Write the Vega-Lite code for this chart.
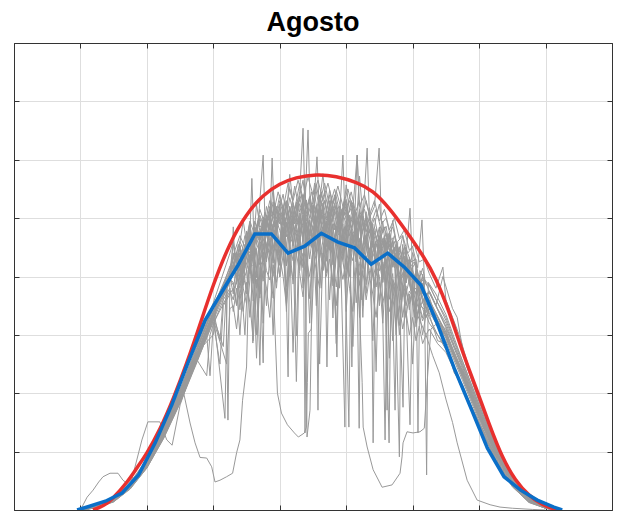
{
"$schema": "https://vega.github.io/schema/vega-lite/v6.json",
"width": 598, "height": 467,
"autosize": {"type": "none"},
"padding": {"left": 14, "top": 43, "right": 6, "bottom": 1},
"background": "white",
"title": {"text": "Agosto", "fontSize": 27, "font": "Liberation Sans", "fontWeight": "bold", "color": "#000000", "anchor": "middle", "frame": "group", "baseline": "alphabetic", "offset": 14, "dy": 29},
"config": {"view": {"stroke": null}},
"datasets": {
"gray": [
{"d":1,"h":5.0,"v":0},{"d":1,"h":5.5,"v":6},{"d":1,"h":6.0,"v":18},{"d":1,"h":6.5,"v":42},{"d":1,"h":7.0,"v":80},{"d":1,"h":7.5,"v":133},{"d":1,"h":8.0,"v":196},{"d":1,"h":8.09,"v":205},{"d":1,"h":8.3,"v":149},{"d":1,"h":8.45,"v":115},{"d":1,"h":8.6,"v":90},{"d":1,"h":8.8,"v":89},{"d":1,"h":8.95,"v":74},{"d":1,"h":9.05,"v":48},{"d":1,"h":9.2,"v":51},{"d":1,"h":9.4,"v":57},{"d":1,"h":9.58,"v":63},{"d":1,"h":9.7,"v":98},{"d":1,"h":9.8,"v":120},{"d":1,"h":9.88,"v":188},{"d":1,"h":10.0,"v":245},{"d":1,"h":10.05,"v":360},{"d":1,"h":10.15,"v":430},{"d":1,"h":10.3,"v":470},{"d":1,"h":10.45,"v":455},{"d":1,"h":10.6,"v":500},{"d":1,"h":10.75,"v":470},{"d":1,"h":10.9,"v":520},{"d":1,"h":11.05,"v":488},{"d":1,"h":11.2,"v":530},{"d":1,"h":11.35,"v":470},{"d":1,"h":11.5,"v":515},{"d":1,"h":11.65,"v":540},{"d":1,"h":11.8,"v":495},{"d":1,"h":11.95,"v":525},{"d":1,"h":12.1,"v":480},{"d":1,"h":12.25,"v":545},{"d":1,"h":12.4,"v":500},{"d":1,"h":12.55,"v":530},{"d":1,"h":12.7,"v":470},{"d":1,"h":12.85,"v":515},{"d":1,"h":13.0,"v":490},{"d":1,"h":13.15,"v":530},{"d":1,"h":13.3,"v":470},{"d":1,"h":13.45,"v":505},{"d":1,"h":13.6,"v":455},{"d":1,"h":13.75,"v":490},{"d":1,"h":13.9,"v":470},{"d":1,"h":14.05,"v":440},{"d":1,"h":14.2,"v":475},{"d":1,"h":14.35,"v":430},{"d":1,"h":14.5,"v":455},{"d":1,"h":14.65,"v":410},{"d":1,"h":14.8,"v":430},{"d":1,"h":14.95,"v":395},{"d":1,"h":15.1,"v":400},{"d":1,"h":15.25,"v":375},{"d":1,"h":15.4,"v":365},{"d":1,"h":15.5,"v":375},{"d":1,"h":16.0,"v":312},{"d":1,"h":16.5,"v":242},{"d":1,"h":17.0,"v":170},{"d":1,"h":17.5,"v":104},{"d":1,"h":18.0,"v":53},{"d":1,"h":18.5,"v":21},{"d":1,"h":19.0,"v":5},{"d":1,"h":19.4,"v":0},
{"d":2,"h":5.0,"v":0},{"d":2,"h":5.5,"v":4},{"d":2,"h":6.0,"v":15},{"d":2,"h":6.5,"v":38},{"d":2,"h":7.0,"v":74},{"d":2,"h":7.5,"v":126},{"d":2,"h":8.0,"v":188},{"d":2,"h":8.5,"v":258},{"d":2,"h":9.0,"v":330},{"d":2,"h":9.3,"v":370},{"d":2,"h":9.5,"v":398},{"d":2,"h":9.65,"v":420},{"d":2,"h":9.8,"v":395},{"d":2,"h":9.95,"v":450},{"d":2,"h":10.1,"v":430},{"d":2,"h":10.25,"v":478},{"d":2,"h":10.4,"v":445},{"d":2,"h":10.55,"v":490},{"d":2,"h":10.7,"v":462},{"d":2,"h":10.82,"v":360},{"d":2,"h":10.88,"v":274},{"d":2,"h":10.93,"v":200},{"d":2,"h":11.05,"v":166},{"d":2,"h":11.23,"v":146},{"d":2,"h":11.44,"v":132},{"d":2,"h":11.56,"v":125},{"d":2,"h":11.74,"v":132},{"d":2,"h":11.8,"v":142},{"d":2,"h":11.83,"v":218},{"d":2,"h":11.86,"v":303},{"d":2,"h":11.95,"v":310},{"d":2,"h":12.0,"v":380},{"d":2,"h":12.05,"v":470},{"d":2,"h":12.2,"v":520},{"d":2,"h":12.35,"v":490},{"d":2,"h":12.5,"v":548},{"d":2,"h":12.65,"v":505},{"d":2,"h":12.8,"v":470},{"d":2,"h":12.95,"v":530},{"d":2,"h":13.1,"v":495},{"d":2,"h":13.25,"v":460},{"d":2,"h":13.4,"v":515},{"d":2,"h":13.55,"v":480},{"d":2,"h":13.7,"v":500},{"d":2,"h":13.85,"v":450},{"d":2,"h":14.0,"v":485},{"d":2,"h":14.15,"v":445},{"d":2,"h":14.3,"v":470},{"d":2,"h":14.45,"v":420},{"d":2,"h":14.6,"v":450},{"d":2,"h":14.75,"v":415},{"d":2,"h":14.9,"v":430},{"d":2,"h":15.05,"v":390},{"d":2,"h":15.2,"v":400},{"d":2,"h":15.35,"v":370},{"d":2,"h":15.5,"v":360},{"d":2,"h":16.0,"v":305},{"d":2,"h":16.5,"v":236},{"d":2,"h":17.0,"v":165},{"d":2,"h":17.5,"v":100},{"d":2,"h":18.0,"v":50},{"d":2,"h":18.5,"v":19},{"d":2,"h":19.0,"v":4},{"d":2,"h":19.3,"v":0},
{"d":3,"h":5.0,"v":0},{"d":3,"h":5.5,"v":5},{"d":3,"h":6.0,"v":17},{"d":3,"h":6.5,"v":41},{"d":3,"h":7.0,"v":78},{"d":3,"h":7.5,"v":130},{"d":3,"h":8.0,"v":192},{"d":3,"h":8.5,"v":265},{"d":3,"h":9.0,"v":338},{"d":3,"h":9.5,"v":405},{"d":3,"h":9.65,"v":430},{"d":3,"h":9.8,"v":410},{"d":3,"h":9.95,"v":455},{"d":3,"h":10.1,"v":440},{"d":3,"h":10.25,"v":485},{"d":3,"h":10.4,"v":460},{"d":3,"h":10.55,"v":500},{"d":3,"h":10.7,"v":475},{"d":3,"h":10.85,"v":520},{"d":3,"h":11.0,"v":490},{"d":3,"h":11.15,"v":530},{"d":3,"h":11.3,"v":500},{"d":3,"h":11.45,"v":555},{"d":3,"h":11.6,"v":510},{"d":3,"h":11.75,"v":540},{"d":3,"h":11.9,"v":500},{"d":3,"h":12.05,"v":560},{"d":3,"h":12.2,"v":515},{"d":3,"h":12.35,"v":545},{"d":3,"h":12.5,"v":505},{"d":3,"h":12.65,"v":535},{"d":3,"h":12.8,"v":495},{"d":3,"h":12.95,"v":525},{"d":3,"h":13.1,"v":490},{"d":3,"h":13.25,"v":515},{"d":3,"h":13.39,"v":360},{"d":3,"h":13.48,"v":218},{"d":3,"h":13.51,"v":142},{"d":3,"h":13.63,"v":108},{"d":3,"h":13.81,"v":69},{"d":3,"h":14.08,"v":39},{"d":3,"h":14.38,"v":43},{"d":3,"h":14.62,"v":63},{"d":3,"h":14.68,"v":91},{"d":3,"h":14.71,"v":115},{"d":3,"h":14.83,"v":134},{"d":3,"h":15.01,"v":132},{"d":3,"h":15.22,"v":134},{"d":3,"h":15.35,"v":140},{"d":3,"h":15.45,"v":230},{"d":3,"h":15.55,"v":310},{"d":3,"h":15.7,"v":318},{"d":3,"h":16.0,"v":300},{"d":3,"h":16.5,"v":232},{"d":3,"h":17.0,"v":162},{"d":3,"h":17.5,"v":98},{"d":3,"h":18.0,"v":48},{"d":3,"h":18.5,"v":18},{"d":3,"h":19.0,"v":4},{"d":3,"h":19.3,"v":0},
{"d":4,"h":5.0,"v":0},{"d":4,"h":5.5,"v":6},{"d":4,"h":6.0,"v":19},{"d":4,"h":6.5,"v":44},{"d":4,"h":7.0,"v":82},{"d":4,"h":7.5,"v":136},{"d":4,"h":8.0,"v":200},{"d":4,"h":8.5,"v":272},{"d":4,"h":9.0,"v":345},{"d":4,"h":9.5,"v":410},{"d":4,"h":9.65,"v":440},{"d":4,"h":9.8,"v":420},{"d":4,"h":9.95,"v":470},{"d":4,"h":10.1,"v":445},{"d":4,"h":10.25,"v":495},{"d":4,"h":10.4,"v":462},{"d":4,"h":10.55,"v":510},{"d":4,"h":10.7,"v":480},{"d":4,"h":10.85,"v":525},{"d":4,"h":11.0,"v":495},{"d":4,"h":11.15,"v":470},{"d":4,"h":11.3,"v":520},{"d":4,"h":11.45,"v":490},{"d":4,"h":11.6,"v":535},{"d":4,"h":11.75,"v":500},{"d":4,"h":11.9,"v":470},{"d":4,"h":12.05,"v":520},{"d":4,"h":12.2,"v":495},{"d":4,"h":12.35,"v":530},{"d":4,"h":12.5,"v":485},{"d":4,"h":12.65,"v":515},{"d":4,"h":12.8,"v":480},{"d":4,"h":12.95,"v":510},{"d":4,"h":13.1,"v":470},{"d":4,"h":13.25,"v":500},{"d":4,"h":13.4,"v":460},{"d":4,"h":13.55,"v":490},{"d":4,"h":13.7,"v":445},{"d":4,"h":13.85,"v":475},{"d":4,"h":14.0,"v":440},{"d":4,"h":14.15,"v":465},{"d":4,"h":14.3,"v":425},{"d":4,"h":14.45,"v":450},{"d":4,"h":14.6,"v":91},{"d":4,"h":14.65,"v":400},{"d":4,"h":14.8,"v":420},{"d":4,"h":14.95,"v":380},{"d":4,"h":15.1,"v":340},{"d":4,"h":15.25,"v":320},{"d":4,"h":15.4,"v":300},{"d":4,"h":15.6,"v":265},{"d":4,"h":15.8,"v":235},{"d":4,"h":16.0,"v":190},{"d":4,"h":16.2,"v":150},{"d":4,"h":16.34,"v":115},{"d":4,"h":16.64,"v":51},{"d":4,"h":16.94,"v":17},{"d":4,"h":17.33,"v":9},{"d":4,"h":17.63,"v":5},{"d":4,"h":18.0,"v":3},{"d":4,"h":18.6,"v":1},{"d":4,"h":19.0,"v":0},
{"d":5,"h":5.0,"v":0},{"d":5,"h":5.2,"v":22},{"d":5,"h":5.38,"v":34},{"d":5,"h":5.55,"v":48},{"d":5,"h":5.68,"v":57},{"d":5,"h":5.89,"v":63},{"d":5,"h":6.13,"v":63},{"d":5,"h":6.28,"v":51},{"d":5,"h":6.4,"v":46},{"d":5,"h":6.6,"v":55},{"d":5,"h":7.0,"v":80},{"d":5,"h":7.5,"v":132},{"d":5,"h":8.0,"v":194},{"d":5,"h":8.5,"v":268},{"d":5,"h":9.0,"v":340},{"d":5,"h":9.5,"v":405},{"d":5,"h":9.55,"v":420},{"d":5,"h":9.6,"v":485},{"d":5,"h":9.65,"v":425},{"d":5,"h":9.8,"v":440},{"d":5,"h":9.95,"v":415},{"d":5,"h":10.1,"v":470},{"d":5,"h":10.16,"v":568},{"d":5,"h":10.22,"v":470},{"d":5,"h":10.35,"v":495},{"d":5,"h":10.5,"v":460},{"d":5,"h":10.65,"v":505},{"d":5,"h":10.8,"v":480},{"d":5,"h":10.95,"v":440},{"d":5,"h":11.1,"v":510},{"d":5,"h":11.25,"v":475},{"d":5,"h":11.4,"v":525},{"d":5,"h":11.55,"v":490},{"d":5,"h":11.7,"v":520},{"d":5,"h":11.85,"v":460},{"d":5,"h":12.0,"v":505},{"d":5,"h":12.12,"v":605},{"d":5,"h":12.2,"v":500},{"d":5,"h":12.35,"v":470},{"d":5,"h":12.5,"v":520},{"d":5,"h":12.65,"v":480},{"d":5,"h":12.8,"v":510},{"d":5,"h":12.95,"v":455},{"d":5,"h":13.1,"v":495},{"d":5,"h":13.25,"v":470},{"d":5,"h":13.4,"v":505},{"d":5,"h":13.55,"v":455},{"d":5,"h":13.7,"v":480},{"d":5,"h":13.85,"v":440},{"d":5,"h":14.0,"v":470},{"d":5,"h":14.15,"v":430},{"d":5,"h":14.3,"v":455},{"d":5,"h":14.45,"v":415},{"d":5,"h":14.6,"v":440},{"d":5,"h":14.75,"v":400},{"d":5,"h":14.92,"v":517},{"d":5,"h":15.0,"v":410},{"d":5,"h":15.15,"v":385},{"d":5,"h":15.3,"v":370},{"d":5,"h":15.5,"v":372},{"d":5,"h":16.0,"v":315},{"d":5,"h":16.5,"v":245},{"d":5,"h":17.0,"v":172},{"d":5,"h":17.5,"v":106},{"d":5,"h":18.0,"v":55},{"d":5,"h":18.5,"v":23},{"d":5,"h":19.0,"v":6},{"d":5,"h":19.4,"v":0},
{"d":6,"h":5.0,"v":0},{"d":6,"h":5.5,"v":5},{"d":6,"h":6.0,"v":17},{"d":6,"h":6.5,"v":42},{"d":6,"h":6.85,"v":120},{"d":6,"h":7.03,"v":151},{"d":6,"h":7.39,"v":151},{"d":6,"h":7.6,"v":120},{"d":6,"h":7.76,"v":111},{"d":6,"h":8.0,"v":180},{"d":6,"h":8.5,"v":262},{"d":6,"h":9.0,"v":338},{"d":6,"h":9.35,"v":157},{"d":6,"h":9.42,"v":380},{"d":6,"h":9.6,"v":410},{"d":6,"h":9.75,"v":455},{"d":6,"h":9.9,"v":430},{"d":6,"h":10.05,"v":470},{"d":6,"h":10.2,"v":445},{"d":6,"h":10.35,"v":490},{"d":6,"h":10.5,"v":608},{"d":6,"h":10.56,"v":480},{"d":6,"h":10.7,"v":505},{"d":6,"h":10.85,"v":470},{"d":6,"h":11.0,"v":520},{"d":6,"h":11.15,"v":485},{"d":6,"h":11.3,"v":535},{"d":6,"h":11.45,"v":500},{"d":6,"h":11.6,"v":545},{"d":6,"h":11.7,"v":654},{"d":6,"h":11.76,"v":520},{"d":6,"h":11.85,"v":651},{"d":6,"h":11.92,"v":510},{"d":6,"h":12.05,"v":540},{"d":6,"h":12.2,"v":490},{"d":6,"h":12.35,"v":530},{"d":6,"h":12.5,"v":495},{"d":6,"h":12.65,"v":540},{"d":6,"h":12.8,"v":500},{"d":6,"h":12.9,"v":608},{"d":6,"h":12.96,"v":505},{"d":6,"h":13.1,"v":530},{"d":6,"h":13.25,"v":490},{"d":6,"h":13.33,"v":608},{"d":6,"h":13.4,"v":500},{"d":6,"h":13.55,"v":515},{"d":6,"h":13.7,"v":475},{"d":6,"h":13.85,"v":500},{"d":6,"h":14.0,"v":460},{"d":6,"h":14.15,"v":485},{"d":6,"h":14.3,"v":445},{"d":6,"h":14.45,"v":470},{"d":6,"h":14.6,"v":430},{"d":6,"h":14.75,"v":450},{"d":6,"h":14.9,"v":415},{"d":6,"h":15.05,"v":425},{"d":6,"h":15.2,"v":390},{"d":6,"h":15.35,"v":395},{"d":6,"h":15.5,"v":375},{"d":6,"h":15.7,"v":350},{"d":6,"h":15.91,"v":400},{"d":6,"h":16.2,"v":345},{"d":6,"h":16.34,"v":330},{"d":6,"h":16.43,"v":300},{"d":6,"h":16.6,"v":250},{"d":6,"h":17.0,"v":185},{"d":6,"h":17.5,"v":112},{"d":6,"h":18.0,"v":58},{"d":6,"h":18.5,"v":24},{"d":6,"h":19.0,"v":7},{"d":6,"h":19.4,"v":0},
{"d":7,"h":5.0,"v":0},{"d":7,"h":5.5,"v":5},{"d":7,"h":6.0,"v":16},{"d":7,"h":6.5,"v":39},{"d":7,"h":7.0,"v":75},{"d":7,"h":7.5,"v":127},{"d":7,"h":8.0,"v":190},{"d":7,"h":8.5,"v":260},{"d":7,"h":9.0,"v":332},{"d":7,"h":9.5,"v":398},{"d":7,"h":9.65,"v":415},{"d":7,"h":9.8,"v":385},{"d":7,"h":9.95,"v":440},{"d":7,"h":10.1,"v":420},{"d":7,"h":10.25,"v":465},{"d":7,"h":10.4,"v":440},{"d":7,"h":10.5,"v":252},{"d":7,"h":10.55,"v":460},{"d":7,"h":10.7,"v":490},{"d":7,"h":10.77,"v":603},{"d":7,"h":10.85,"v":480},{"d":7,"h":11.0,"v":455},{"d":7,"h":11.15,"v":500},{"d":7,"h":11.25,"v":228},{"d":7,"h":11.3,"v":470},{"d":7,"h":11.45,"v":510},{"d":7,"h":11.6,"v":475},{"d":7,"h":11.75,"v":500},{"d":7,"h":11.82,"v":125},{"d":7,"h":11.91,"v":171},{"d":7,"h":12.0,"v":480},{"d":7,"h":12.2,"v":520},{"d":7,"h":12.35,"v":470},{"d":7,"h":12.5,"v":505},{"d":7,"h":12.6,"v":460},{"d":7,"h":12.72,"v":262},{"d":7,"h":12.8,"v":500},{"d":7,"h":12.95,"v":460},{"d":7,"h":13.08,"v":142},{"d":7,"h":13.15,"v":480},{"d":7,"h":13.3,"v":510},{"d":7,"h":13.45,"v":470},{"d":7,"h":13.6,"v":500},{"d":7,"h":13.75,"v":450},{"d":7,"h":13.81,"v":115},{"d":7,"h":13.88,"v":460},{"d":7,"h":14.0,"v":440},{"d":7,"h":14.15,"v":470},{"d":7,"h":14.23,"v":171},{"d":7,"h":14.3,"v":440},{"d":7,"h":14.45,"v":460},{"d":7,"h":14.6,"v":420},{"d":7,"h":14.75,"v":435},{"d":7,"h":14.92,"v":146},{"d":7,"h":15.0,"v":400},{"d":7,"h":15.15,"v":385},{"d":7,"h":15.3,"v":360},{"d":7,"h":15.5,"v":350},{"d":7,"h":16.0,"v":298},{"d":7,"h":16.5,"v":230},{"d":7,"h":17.0,"v":160},{"d":7,"h":17.5,"v":97},{"d":7,"h":18.0,"v":47},{"d":7,"h":18.5,"v":17},{"d":7,"h":19.0,"v":4},{"d":7,"h":19.3,"v":0},
{"d":8,"h":5.0,"v":0},{"d":8,"h":5.5,"v":7},{"d":8,"h":6.0,"v":20},{"d":8,"h":6.5,"v":46},{"d":8,"h":7.0,"v":86},{"d":8,"h":7.5,"v":140},{"d":8,"h":8.0,"v":205},{"d":8,"h":8.5,"v":278},{"d":8,"h":9.0,"v":350},{"d":8,"h":9.38,"v":395},{"d":8,"h":9.44,"v":154},{"d":8,"h":9.5,"v":400},{"d":8,"h":9.65,"v":430},{"d":8,"h":9.8,"v":460},{"d":8,"h":9.95,"v":440},{"d":8,"h":10.1,"v":490},{"d":8,"h":10.19,"v":286},{"d":8,"h":10.25,"v":470},{"d":8,"h":10.4,"v":505},{"d":8,"h":10.55,"v":480},{"d":8,"h":10.7,"v":520},{"d":8,"h":10.85,"v":495},{"d":8,"h":11.0,"v":540},{"d":8,"h":11.15,"v":505},{"d":8,"h":11.3,"v":550},{"d":8,"h":11.45,"v":515},{"d":8,"h":11.6,"v":560},{"d":8,"h":11.7,"v":520},{"d":8,"h":11.76,"v":132},{"d":8,"h":11.82,"v":500},{"d":8,"h":11.95,"v":545},{"d":8,"h":12.08,"v":515},{"d":8,"h":12.15,"v":171},{"d":8,"h":12.22,"v":530},{"d":8,"h":12.35,"v":560},{"d":8,"h":12.5,"v":520},{"d":8,"h":12.65,"v":550},{"d":8,"h":12.8,"v":510},{"d":8,"h":12.96,"v":142},{"d":8,"h":13.02,"v":520},{"d":8,"h":13.15,"v":545},{"d":8,"h":13.3,"v":505},{"d":8,"h":13.39,"v":140},{"d":8,"h":13.45,"v":500},{"d":8,"h":13.6,"v":530},{"d":8,"h":13.75,"v":490},{"d":8,"h":13.9,"v":515},{"d":8,"h":14.05,"v":480},{"d":8,"h":14.17,"v":120},{"d":8,"h":14.25,"v":470},{"d":8,"h":14.4,"v":485},{"d":8,"h":14.55,"v":450},{"d":8,"h":14.71,"v":176},{"d":8,"h":14.78,"v":450},{"d":8,"h":14.95,"v":425},{"d":8,"h":15.1,"v":430},{"d":8,"h":15.16,"v":132},{"d":8,"h":15.22,"v":410},{"d":8,"h":15.35,"v":395},{"d":8,"h":15.5,"v":385},{"d":8,"h":16.0,"v":325},{"d":8,"h":16.5,"v":250},{"d":8,"h":17.0,"v":176},{"d":8,"h":17.5,"v":108},{"d":8,"h":18.0,"v":56},{"d":8,"h":18.5,"v":22},{"d":8,"h":19.0,"v":6},{"d":8,"h":19.4,"v":0},
{"d":9,"h":5.0,"v":0},{"d":9,"h":5.5,"v":5},{"d":9,"h":6.0,"v":17},{"d":9,"h":6.5,"v":40},{"d":9,"h":7.0,"v":77},{"d":9,"h":7.5,"v":129},{"d":9,"h":8.0,"v":192},{"d":9,"h":8.5,"v":264},{"d":9,"h":9.0,"v":336},{"d":9,"h":9.5,"v":402},{"d":9,"h":9.65,"v":425},{"d":9,"h":9.8,"v":450},{"d":9,"h":9.95,"v":430},{"d":9,"h":10.1,"v":475},{"d":9,"h":10.25,"v":455},{"d":9,"h":10.4,"v":500},{"d":9,"h":10.55,"v":470},{"d":9,"h":10.7,"v":515},{"d":9,"h":10.85,"v":485},{"d":9,"h":11.0,"v":530},{"d":9,"h":11.15,"v":495},{"d":9,"h":11.3,"v":515},{"d":9,"h":11.45,"v":480},{"d":9,"h":11.6,"v":525},{"d":9,"h":11.75,"v":495},{"d":9,"h":11.9,"v":535},{"d":9,"h":12.05,"v":500},{"d":9,"h":12.2,"v":540},{"d":9,"h":12.35,"v":505},{"d":9,"h":12.42,"v":245},{"d":9,"h":12.5,"v":495},{"d":9,"h":12.65,"v":525},{"d":9,"h":12.8,"v":490},{"d":9,"h":12.95,"v":535},{"d":9,"h":13.1,"v":500},{"d":9,"h":13.17,"v":245},{"d":9,"h":13.25,"v":505},{"d":9,"h":13.4,"v":530},{"d":9,"h":13.5,"v":495},{"d":9,"h":13.63,"v":620},{"d":9,"h":13.7,"v":500},{"d":9,"h":13.85,"v":520},{"d":9,"h":13.99,"v":620},{"d":9,"h":14.06,"v":490},{"d":9,"h":14.2,"v":500},{"d":9,"h":14.35,"v":465},{"d":9,"h":14.47,"v":171},{"d":9,"h":14.55,"v":460},{"d":9,"h":14.7,"v":470},{"d":9,"h":14.85,"v":440},{"d":9,"h":15.0,"v":450},{"d":9,"h":15.15,"v":415},{"d":9,"h":15.28,"v":497},{"d":9,"h":15.35,"v":400},{"d":9,"h":15.42,"v":60},{"d":9,"h":15.47,"v":390},{"d":9,"h":15.7,"v":370},{"d":9,"h":16.0,"v":335},{"d":9,"h":16.5,"v":255},{"d":9,"h":17.0,"v":180},{"d":9,"h":17.5,"v":110},{"d":9,"h":18.0,"v":57},{"d":9,"h":18.5,"v":23},{"d":9,"h":19.0,"v":6},{"d":9,"h":19.4,"v":0},
{"d":10,"h":5.0,"v":0},{"d":10,"h":5.5,"v":4},{"d":10,"h":6.0,"v":14},{"d":10,"h":6.5,"v":36},{"d":10,"h":7.0,"v":72},{"d":10,"h":7.5,"v":122},{"d":10,"h":8.0,"v":183},{"d":10,"h":8.5,"v":252},{"d":10,"h":9.0,"v":325},{"d":10,"h":9.5,"v":392},{"d":10,"h":9.65,"v":410},{"d":10,"h":9.8,"v":380},{"d":10,"h":9.95,"v":430},{"d":10,"h":10.1,"v":405},{"d":10,"h":10.25,"v":450},{"d":10,"h":10.4,"v":420},{"d":10,"h":10.55,"v":465},{"d":10,"h":10.7,"v":435},{"d":10,"h":10.85,"v":480},{"d":10,"h":11.0,"v":440},{"d":10,"h":11.15,"v":490},{"d":10,"h":11.3,"v":455},{"d":10,"h":11.45,"v":500},{"d":10,"h":11.6,"v":460},{"d":10,"h":11.75,"v":505},{"d":10,"h":11.9,"v":465},{"d":10,"h":12.05,"v":500},{"d":10,"h":12.2,"v":455},{"d":10,"h":12.35,"v":495},{"d":10,"h":12.5,"v":450},{"d":10,"h":12.65,"v":490},{"d":10,"h":12.8,"v":445},{"d":10,"h":12.95,"v":485},{"d":10,"h":13.1,"v":440},{"d":10,"h":13.25,"v":475},{"d":10,"h":13.4,"v":430},{"d":10,"h":13.55,"v":465},{"d":10,"h":13.7,"v":420},{"d":10,"h":13.85,"v":455},{"d":10,"h":14.0,"v":410},{"d":10,"h":14.15,"v":440},{"d":10,"h":14.29,"v":115},{"d":10,"h":14.35,"v":420},{"d":10,"h":14.5,"v":430},{"d":10,"h":14.65,"v":395},{"d":10,"h":14.8,"v":410},{"d":10,"h":14.95,"v":375},{"d":10,"h":15.1,"v":380},{"d":10,"h":15.25,"v":350},{"d":10,"h":15.4,"v":340},{"d":10,"h":15.5,"v":345},{"d":10,"h":16.0,"v":295},{"d":10,"h":16.5,"v":226},{"d":10,"h":17.0,"v":156},{"d":10,"h":17.5,"v":94},{"d":10,"h":18.0,"v":45},{"d":10,"h":18.5,"v":16},{"d":10,"h":19.0,"v":3},{"d":10,"h":19.3,"v":0},
{"d":11,"h":5.0,"v":0},{"d":11,"h":5.5,"v":6},{"d":11,"h":6.0,"v":19},{"d":11,"h":6.5,"v":44},{"d":11,"h":7.0,"v":83},{"d":11,"h":7.5,"v":138},{"d":11,"h":8.0,"v":203},{"d":11,"h":8.5,"v":275},{"d":11,"h":9.0,"v":348},{"d":11,"h":9.5,"v":415},{"d":11,"h":9.65,"v":445},{"d":11,"h":9.8,"v":470},{"d":11,"h":9.95,"v":450},{"d":11,"h":10.1,"v":495},{"d":11,"h":10.25,"v":470},{"d":11,"h":10.4,"v":515},{"d":11,"h":10.55,"v":490},{"d":11,"h":10.7,"v":530},{"d":11,"h":10.8,"v":505},{"d":11,"h":10.95,"v":545},{"d":11,"h":11.1,"v":515},{"d":11,"h":11.25,"v":560},{"d":11,"h":11.4,"v":530},{"d":11,"h":11.55,"v":565},{"d":11,"h":11.7,"v":535},{"d":11,"h":11.85,"v":570},{"d":11,"h":12.0,"v":540},{"d":11,"h":12.15,"v":565},{"d":11,"h":12.3,"v":530},{"d":11,"h":12.45,"v":560},{"d":11,"h":12.6,"v":525},{"d":11,"h":12.75,"v":555},{"d":11,"h":12.9,"v":520},{"d":11,"h":13.05,"v":550},{"d":11,"h":13.2,"v":515},{"d":11,"h":13.33,"v":608},{"d":11,"h":13.4,"v":520},{"d":11,"h":13.55,"v":540},{"d":11,"h":13.7,"v":505},{"d":11,"h":13.85,"v":530},{"d":11,"h":14.0,"v":495},{"d":11,"h":14.15,"v":515},{"d":11,"h":14.3,"v":480},{"d":11,"h":14.45,"v":500},{"d":11,"h":14.6,"v":465},{"d":11,"h":14.75,"v":480},{"d":11,"h":14.9,"v":445},{"d":11,"h":15.05,"v":455},{"d":11,"h":15.2,"v":425},{"d":11,"h":15.35,"v":430},{"d":11,"h":15.5,"v":405},{"d":11,"h":15.7,"v":380},{"d":11,"h":15.91,"v":416},{"d":11,"h":16.0,"v":360},{"d":11,"h":16.2,"v":330},{"d":11,"h":16.4,"v":300},{"d":11,"h":16.6,"v":262},{"d":11,"h":17.0,"v":188},{"d":11,"h":17.5,"v":115},{"d":11,"h":18.0,"v":60},{"d":11,"h":18.5,"v":25},{"d":11,"h":19.0,"v":7},{"d":11,"h":19.5,"v":0},
{"d":12,"h":5.0,"v":0},{"d":12,"h":5.5,"v":5},{"d":12,"h":6.0,"v":16},{"d":12,"h":6.5,"v":40},{"d":12,"h":7.0,"v":76},{"d":12,"h":7.5,"v":128},{"d":12,"h":8.0,"v":189},{"d":12,"h":8.5,"v":259},{"d":12,"h":9.0,"v":330},{"d":12,"h":9.5,"v":396},{"d":12,"h":9.65,"v":380},{"d":12,"h":9.8,"v":420},{"d":12,"h":9.95,"v":300},{"d":12,"h":10.05,"v":410},{"d":12,"h":10.2,"v":445},{"d":12,"h":10.35,"v":330},{"d":12,"h":10.45,"v":460},{"d":12,"h":10.6,"v":430},{"d":12,"h":10.75,"v":470},{"d":12,"h":10.9,"v":380},{"d":12,"h":11.0,"v":450},{"d":12,"h":11.15,"v":480},{"d":12,"h":11.3,"v":400},{"d":12,"h":11.4,"v":470},{"d":12,"h":11.55,"v":500},{"d":12,"h":11.7,"v":420},{"d":12,"h":11.8,"v":490},{"d":12,"h":11.95,"v":450},{"d":12,"h":12.1,"v":500},{"d":12,"h":12.25,"v":380},{"d":12,"h":12.35,"v":470},{"d":12,"h":12.5,"v":495},{"d":12,"h":12.65,"v":400},{"d":12,"h":12.75,"v":470},{"d":12,"h":12.9,"v":490},{"d":12,"h":13.05,"v":410},{"d":12,"h":13.15,"v":480},{"d":12,"h":13.3,"v":450},{"d":12,"h":13.45,"v":360},{"d":12,"h":13.55,"v":470},{"d":12,"h":13.7,"v":440},{"d":12,"h":13.85,"v":380},{"d":12,"h":13.95,"v":455},{"d":12,"h":14.1,"v":420},{"d":12,"h":14.25,"v":350},{"d":12,"h":14.35,"v":430},{"d":12,"h":14.5,"v":440},{"d":12,"h":14.65,"v":360},{"d":12,"h":14.75,"v":420},{"d":12,"h":14.9,"v":400},{"d":12,"h":15.05,"v":330},{"d":12,"h":15.15,"v":390},{"d":12,"h":15.3,"v":365},{"d":12,"h":15.45,"v":340},{"d":12,"h":15.6,"v":330},{"d":12,"h":16.0,"v":290},{"d":12,"h":16.5,"v":222},{"d":12,"h":17.0,"v":152},{"d":12,"h":17.5,"v":92},{"d":12,"h":18.0,"v":44},{"d":12,"h":18.5,"v":15},{"d":12,"h":19.0,"v":3},{"d":12,"h":19.3,"v":0},
{"d":13,"h":5.0,"v":0},{"d":13,"h":5.5,"v":5},{"d":13,"h":6.0,"v":17},{"d":13,"h":6.5,"v":41},{"d":13,"h":7.0,"v":78},{"d":13,"h":7.5,"v":131},{"d":13,"h":8.0,"v":194},{"d":13,"h":8.5,"v":266},{"d":13,"h":9.0,"v":338},{"d":13,"h":9.3,"v":375},{"d":13,"h":9.5,"v":395},{"d":13,"h":9.6,"v":440},{"d":13,"h":9.7,"v":387},{"d":13,"h":9.8,"v":428},{"d":13,"h":9.9,"v":385},{"d":13,"h":10.0,"v":478},{"d":13,"h":10.1,"v":423},{"d":13,"h":10.2,"v":463},{"d":13,"h":10.3,"v":398},{"d":13,"h":10.4,"v":478},{"d":13,"h":10.5,"v":457},{"d":13,"h":10.6,"v":425},{"d":13,"h":10.7,"v":514},{"d":13,"h":10.8,"v":448},{"d":13,"h":10.9,"v":486},{"d":13,"h":11.0,"v":419},{"d":13,"h":11.1,"v":506},{"d":13,"h":11.2,"v":468},{"d":13,"h":11.3,"v":520},{"d":13,"h":11.4,"v":452},{"d":13,"h":11.5,"v":488},{"d":13,"h":11.6,"v":439},{"d":13,"h":11.7,"v":540},{"d":13,"h":11.8,"v":461},{"d":13,"h":11.9,"v":497},{"d":13,"h":12.0,"v":452},{"d":13,"h":12.1,"v":522},{"d":13,"h":12.2,"v":472},{"d":13,"h":12.3,"v":506},{"d":13,"h":12.4,"v":426},{"d":13,"h":12.5,"v":510},{"d":13,"h":12.6,"v":484},{"d":13,"h":12.7,"v":452},{"d":13,"h":12.8,"v":521},{"d":13,"h":12.9,"v":459},{"d":13,"h":13.0,"v":492},{"d":13,"h":13.1,"v":430},{"d":13,"h":13.2,"v":502},{"d":13,"h":13.3,"v":455},{"d":13,"h":13.4,"v":512},{"d":13,"h":13.5,"v":429},{"d":13,"h":13.6,"v":471},{"d":13,"h":13.7,"v":433},{"d":13,"h":13.8,"v":490},{"d":13,"h":13.9,"v":402},{"d":13,"h":14.0,"v":469},{"d":13,"h":14.1,"v":435},{"d":13,"h":14.2,"v":466},{"d":13,"h":14.3,"v":396},{"d":13,"h":14.4,"v":446},{"d":13,"h":14.5,"v":431},{"d":13,"h":14.6,"v":391},{"d":13,"h":14.7,"v":455},{"d":13,"h":14.8,"v":389},{"d":13,"h":14.9,"v":428},{"d":13,"h":15.0,"v":351},{"d":13,"h":15.1,"v":404},{"d":13,"h":15.2,"v":367},{"d":13,"h":15.3,"v":404},{"d":13,"h":15.4,"v":341},{"d":13,"h":15.5,"v":360},{"d":13,"h":15.75,"v":330},{"d":13,"h":16.0,"v":305},{"d":13,"h":16.25,"v":270},{"d":13,"h":16.5,"v":238},{"d":13,"h":17.0,"v":166},{"d":13,"h":17.5,"v":101},{"d":13,"h":18.0,"v":51},{"d":13,"h":18.5,"v":20},{"d":13,"h":19.0,"v":5},{"d":13,"h":19.35,"v":0},
{"d":14,"h":5.0,"v":0},{"d":14,"h":5.5,"v":6},{"d":14,"h":6.0,"v":18},{"d":14,"h":6.5,"v":43},{"d":14,"h":7.0,"v":81},{"d":14,"h":7.5,"v":134},{"d":14,"h":8.0,"v":198},{"d":14,"h":8.5,"v":270},{"d":14,"h":9.0,"v":300},{"d":14,"h":9.1,"v":355},{"d":14,"h":9.5,"v":400},{"d":14,"h":9.6,"v":370},{"d":14,"h":9.7,"v":432},{"d":14,"h":9.8,"v":363},{"d":14,"h":9.9,"v":430},{"d":14,"h":10.0,"v":468},{"d":14,"h":10.1,"v":418},{"d":14,"h":10.2,"v":393},{"d":14,"h":10.3,"v":463},{"d":14,"h":10.4,"v":483},{"d":14,"h":10.5,"v":427},{"d":14,"h":10.6,"v":505},{"d":14,"h":10.7,"v":454},{"d":14,"h":10.8,"v":428},{"d":14,"h":10.9,"v":496},{"d":14,"h":11.0,"v":449},{"d":14,"h":11.1,"v":516},{"d":14,"h":11.2,"v":418},{"d":14,"h":11.3,"v":490},{"d":14,"h":11.4,"v":502},{"d":14,"h":11.5,"v":438},{"d":14,"h":11.6,"v":499},{"d":14,"h":11.7,"v":470},{"d":14,"h":11.8,"v":531},{"d":14,"h":11.9,"v":452},{"d":14,"h":12.0,"v":487},{"d":14,"h":12.1,"v":437},{"d":14,"h":12.2,"v":517},{"d":14,"h":12.3,"v":461},{"d":14,"h":12.4,"v":496},{"d":14,"h":12.5,"v":520},{"d":14,"h":12.6,"v":444},{"d":14,"h":12.7,"v":487},{"d":14,"h":12.8,"v":416},{"d":14,"h":12.9,"v":499},{"d":14,"h":13.0,"v":517},{"d":14,"h":13.1,"v":450},{"d":14,"h":13.2,"v":472},{"d":14,"h":13.3,"v":425},{"d":14,"h":13.4,"v":492},{"d":14,"h":13.5,"v":444},{"d":14,"h":13.6,"v":511},{"d":14,"h":13.7,"v":428},{"d":14,"h":13.8,"v":460},{"d":14,"h":13.9,"v":417},{"d":14,"h":14.0,"v":484},{"d":14,"h":14.1,"v":390},{"d":14,"h":14.2,"v":456},{"d":14,"h":14.3,"v":421},{"d":14,"h":14.4,"v":461},{"d":14,"h":14.5,"v":396},{"d":14,"h":14.6,"v":431},{"d":14,"h":14.7,"v":365},{"d":14,"h":14.8,"v":434},{"d":14,"h":14.9,"v":393},{"d":14,"h":15.0,"v":411},{"d":14,"h":15.1,"v":349},{"d":14,"h":15.2,"v":402},{"d":14,"h":15.3,"v":354},{"d":14,"h":15.4,"v":371},{"d":14,"h":15.5,"v":365},{"d":14,"h":15.75,"v":320},{"d":14,"h":16.0,"v":310},{"d":14,"h":16.25,"v":262},{"d":14,"h":16.5,"v":240},{"d":14,"h":17.0,"v":168},{"d":14,"h":17.5,"v":103},{"d":14,"h":18.0,"v":52},{"d":14,"h":18.5,"v":20},{"d":14,"h":19.0,"v":5},{"d":14,"h":19.35,"v":0},
{"d":15,"h":5.0,"v":0},{"d":15,"h":5.5,"v":4},{"d":15,"h":6.0,"v":15},{"d":15,"h":6.5,"v":38},{"d":15,"h":7.0,"v":74},{"d":15,"h":7.5,"v":125},{"d":15,"h":8.0,"v":187},{"d":15,"h":8.5,"v":257},{"d":15,"h":9.0,"v":330},{"d":15,"h":9.3,"v":280},{"d":15,"h":9.4,"v":385},{"d":15,"h":9.5,"v":410},{"d":15,"h":9.6,"v":455},{"d":15,"h":9.7,"v":417},{"d":15,"h":9.8,"v":453},{"d":15,"h":9.9,"v":415},{"d":15,"h":10.0,"v":458},{"d":15,"h":10.1,"v":493},{"d":15,"h":10.2,"v":438},{"d":15,"h":10.3,"v":488},{"d":15,"h":10.4,"v":463},{"d":15,"h":10.5,"v":502},{"d":15,"h":10.6,"v":445},{"d":15,"h":10.7,"v":494},{"d":15,"h":10.8,"v":528},{"d":15,"h":10.9,"v":471},{"d":15,"h":11.0,"v":509},{"d":15,"h":11.1,"v":491},{"d":15,"h":11.2,"v":528},{"d":15,"h":11.3,"v":470},{"d":15,"h":11.4,"v":507},{"d":15,"h":11.5,"v":523},{"d":15,"h":11.6,"v":489},{"d":15,"h":11.7,"v":540},{"d":15,"h":11.8,"v":506},{"d":15,"h":11.9,"v":472},{"d":15,"h":12.0,"v":522},{"d":15,"h":12.1,"v":497},{"d":15,"h":12.2,"v":537},{"d":15,"h":12.3,"v":511},{"d":15,"h":12.4,"v":481},{"d":15,"h":12.5,"v":530},{"d":15,"h":12.6,"v":499},{"d":15,"h":12.7,"v":522},{"d":15,"h":12.8,"v":471},{"d":15,"h":12.9,"v":509},{"d":15,"h":13.0,"v":532},{"d":15,"h":13.1,"v":480},{"d":15,"h":13.2,"v":507},{"d":15,"h":13.3,"v":490},{"d":15,"h":13.4,"v":447},{"d":15,"h":13.5,"v":504},{"d":15,"h":13.6,"v":476},{"d":15,"h":13.7,"v":503},{"d":15,"h":13.8,"v":450},{"d":15,"h":13.9,"v":482},{"d":15,"h":14.0,"v":459},{"d":15,"h":14.1,"v":495},{"d":15,"h":14.2,"v":441},{"d":15,"h":14.3,"v":461},{"d":15,"h":14.4,"v":466},{"d":15,"h":14.5,"v":416},{"d":15,"h":14.6,"v":451},{"d":15,"h":14.7,"v":430},{"d":15,"h":14.8,"v":449},{"d":15,"h":14.9,"v":398},{"d":15,"h":15.0,"v":416},{"d":15,"h":15.1,"v":424},{"d":15,"h":15.2,"v":387},{"d":15,"h":15.3,"v":399},{"d":15,"h":15.4,"v":366},{"d":15,"h":15.5,"v":375},{"d":15,"h":15.75,"v":345},{"d":15,"h":16.0,"v":320},{"d":15,"h":16.25,"v":282},{"d":15,"h":16.5,"v":248},{"d":15,"h":17.0,"v":175},{"d":15,"h":17.5,"v":107},{"d":15,"h":18.0,"v":55},{"d":15,"h":18.5,"v":22},{"d":15,"h":19.0,"v":6},{"d":15,"h":19.4,"v":0},
{"d":16,"h":5.0,"v":0},{"d":16,"h":5.5,"v":5},{"d":16,"h":6.0,"v":16},{"d":16,"h":6.5,"v":39},{"d":16,"h":7.0,"v":76},{"d":16,"h":7.5,"v":128},{"d":16,"h":8.0,"v":191},{"d":16,"h":8.5,"v":262},{"d":16,"h":8.8,"v":300},{"d":16,"h":8.9,"v":230},{"d":16,"h":9.0,"v":320},{"d":16,"h":9.5,"v":375},{"d":16,"h":9.6,"v":360},{"d":16,"h":9.7,"v":397},{"d":16,"h":9.8,"v":343},{"d":16,"h":9.9,"v":400},{"d":16,"h":10.0,"v":378},{"d":16,"h":10.1,"v":438},{"d":16,"h":10.2,"v":358},{"d":16,"h":10.3,"v":413},{"d":16,"h":10.4,"v":433},{"d":16,"h":10.5,"v":392},{"d":16,"h":10.6,"v":455},{"d":16,"h":10.7,"v":414},{"d":16,"h":10.8,"v":363},{"d":16,"h":10.9,"v":446},{"d":16,"h":11.0,"v":434},{"d":16,"h":11.1,"v":481},{"d":16,"h":11.2,"v":418},{"d":16,"h":11.3,"v":450},{"d":16,"h":11.4,"v":387},{"d":16,"h":11.5,"v":473},{"d":16,"h":11.6,"v":439},{"d":16,"h":11.7,"v":415},{"d":16,"h":11.8,"v":466},{"d":16,"h":11.9,"v":362},{"d":16,"h":12.0,"v":452},{"d":16,"h":12.1,"v":482},{"d":16,"h":12.2,"v":432},{"d":16,"h":12.3,"v":461},{"d":16,"h":12.4,"v":406},{"d":16,"h":12.5,"v":470},{"d":16,"h":12.6,"v":434},{"d":16,"h":12.7,"v":382},{"d":16,"h":12.8,"v":451},{"d":16,"h":12.9,"v":479},{"d":16,"h":13.0,"v":412},{"d":16,"h":13.1,"v":435},{"d":16,"h":13.2,"v":452},{"d":16,"h":13.3,"v":355},{"d":16,"h":13.4,"v":422},{"d":16,"h":13.5,"v":439},{"d":16,"h":13.6,"v":386},{"d":16,"h":13.7,"v":448},{"d":16,"h":13.8,"v":400},{"d":16,"h":13.9,"v":417},{"d":16,"h":14.0,"v":359},{"d":16,"h":14.1,"v":425},{"d":16,"h":14.2,"v":391},{"d":16,"h":14.3,"v":421},{"d":16,"h":14.4,"v":361},{"d":16,"h":14.5,"v":396},{"d":16,"h":14.6,"v":316},{"d":16,"h":14.7,"v":370},{"d":16,"h":14.8,"v":384},{"d":16,"h":14.9,"v":343},{"d":16,"h":15.0,"v":386},{"d":16,"h":15.1,"v":314},{"d":16,"h":15.2,"v":347},{"d":16,"h":15.3,"v":324},{"d":16,"h":15.4,"v":341},{"d":16,"h":15.5,"v":330},{"d":16,"h":15.75,"v":300},{"d":16,"h":16.0,"v":280},{"d":16,"h":16.25,"v":240},{"d":16,"h":16.5,"v":210},{"d":16,"h":17.0,"v":150},{"d":16,"h":17.5,"v":90},{"d":16,"h":18.0,"v":42},{"d":16,"h":18.5,"v":14},{"d":16,"h":19.0,"v":3},{"d":16,"h":19.3,"v":0},
{"d":17,"h":5.0,"v":0},{"d":17,"h":5.5,"v":6},{"d":17,"h":6.0,"v":19},{"d":17,"h":6.5,"v":45},{"d":17,"h":7.0,"v":84},{"d":17,"h":7.5,"v":138},{"d":17,"h":8.0,"v":201},{"d":17,"h":8.5,"v":274},{"d":17,"h":9.0,"v":346},{"d":17,"h":9.5,"v":405},{"d":17,"h":9.6,"v":410},{"d":17,"h":9.7,"v":442},{"d":17,"h":9.8,"v":408},{"d":17,"h":9.9,"v":445},{"d":17,"h":10.0,"v":408},{"d":17,"h":10.1,"v":473},{"d":17,"h":10.2,"v":443},{"d":17,"h":10.3,"v":413},{"d":17,"h":10.4,"v":468},{"d":17,"h":10.5,"v":497},{"d":17,"h":10.6,"v":445},{"d":17,"h":10.7,"v":474},{"d":17,"h":10.8,"v":423},{"d":17,"h":10.9,"v":496},{"d":17,"h":11.0,"v":479},{"d":17,"h":11.1,"v":456},{"d":17,"h":11.2,"v":508},{"d":17,"h":11.3,"v":450},{"d":17,"h":11.4,"v":497},{"d":17,"h":11.5,"v":528},{"d":17,"h":11.6,"v":474},{"d":17,"h":11.7,"v":505},{"d":17,"h":11.8,"v":446},{"d":17,"h":11.9,"v":497},{"d":17,"h":12.0,"v":522},{"d":17,"h":12.1,"v":462},{"d":17,"h":12.2,"v":492},{"d":17,"h":12.3,"v":511},{"d":17,"h":12.4,"v":466},{"d":17,"h":12.5,"v":525},{"d":17,"h":12.6,"v":449},{"d":17,"h":12.7,"v":482},{"d":17,"h":12.8,"v":501},{"d":17,"h":12.9,"v":429},{"d":17,"h":13.0,"v":492},{"d":17,"h":13.1,"v":505},{"d":17,"h":13.2,"v":457},{"d":17,"h":13.3,"v":480},{"d":17,"h":13.4,"v":437},{"d":17,"h":13.5,"v":499},{"d":17,"h":13.6,"v":461},{"d":17,"h":13.7,"v":433},{"d":17,"h":13.8,"v":480},{"d":17,"h":13.9,"v":412},{"d":17,"h":14.0,"v":454},{"d":17,"h":14.1,"v":465},{"d":17,"h":14.2,"v":421},{"d":17,"h":14.3,"v":471},{"d":17,"h":14.4,"v":416},{"d":17,"h":14.5,"v":441},{"d":17,"h":14.6,"v":386},{"d":17,"h":14.7,"v":445},{"d":17,"h":14.8,"v":399},{"d":17,"h":14.9,"v":413},{"d":17,"h":15.0,"v":366},{"d":17,"h":15.1,"v":414},{"d":17,"h":15.2,"v":367},{"d":17,"h":15.3,"v":389},{"d":17,"h":15.4,"v":346},{"d":17,"h":15.5,"v":350},{"d":17,"h":15.75,"v":330},{"d":17,"h":16.0,"v":300},{"d":17,"h":16.25,"v":265},{"d":17,"h":16.5,"v":232},{"d":17,"h":17.0,"v":163},{"d":17,"h":17.5,"v":99},{"d":17,"h":18.0,"v":49},{"d":17,"h":18.5,"v":19},{"d":17,"h":19.0,"v":4},{"d":17,"h":19.3,"v":0},
{"d":18,"h":5.0,"v":0},{"d":18,"h":5.5,"v":7},{"d":18,"h":6.0,"v":21},{"d":18,"h":6.5,"v":47},{"d":18,"h":7.0,"v":87},{"d":18,"h":7.5,"v":142},{"d":18,"h":8.0,"v":207},{"d":18,"h":8.5,"v":281},{"d":18,"h":9.0,"v":355},{"d":18,"h":9.5,"v":440},{"d":18,"h":9.6,"v":460},{"d":18,"h":9.7,"v":427},{"d":18,"h":9.8,"v":458},{"d":18,"h":9.9,"v":495},{"d":18,"h":10.0,"v":458},{"d":18,"h":10.1,"v":488},{"d":18,"h":10.2,"v":453},{"d":18,"h":10.3,"v":523},{"d":18,"h":10.4,"v":488},{"d":18,"h":10.5,"v":477},{"d":18,"h":10.6,"v":520},{"d":18,"h":10.7,"v":494},{"d":18,"h":10.8,"v":553},{"d":18,"h":10.9,"v":486},{"d":18,"h":11.0,"v":519},{"d":18,"h":11.1,"v":541},{"d":18,"h":11.2,"v":503},{"d":18,"h":11.3,"v":575},{"d":18,"h":11.4,"v":522},{"d":18,"h":11.5,"v":503},{"d":18,"h":11.6,"v":539},{"d":18,"h":11.7,"v":565},{"d":18,"h":11.8,"v":516},{"d":18,"h":11.9,"v":537},{"d":18,"h":12.0,"v":502},{"d":18,"h":12.1,"v":557},{"d":18,"h":12.2,"v":527},{"d":18,"h":12.3,"v":576},{"d":18,"h":12.4,"v":511},{"d":18,"h":12.5,"v":540},{"d":18,"h":12.6,"v":494},{"d":18,"h":12.7,"v":547},{"d":18,"h":12.8,"v":526},{"d":18,"h":12.9,"v":499},{"d":18,"h":13.0,"v":557},{"d":18,"h":13.1,"v":510},{"d":18,"h":13.2,"v":527},{"d":18,"h":13.3,"v":485},{"d":18,"h":13.4,"v":572},{"d":18,"h":13.5,"v":504},{"d":18,"h":13.6,"v":486},{"d":18,"h":13.7,"v":518},{"d":18,"h":13.8,"v":465},{"d":18,"h":13.9,"v":502},{"d":18,"h":14.0,"v":524},{"d":18,"h":14.1,"v":475},{"d":18,"h":14.2,"v":486},{"d":18,"h":14.3,"v":451},{"d":18,"h":14.4,"v":496},{"d":18,"h":14.5,"v":461},{"d":18,"h":14.6,"v":441},{"d":18,"h":14.7,"v":470},{"d":18,"h":14.8,"v":434},{"d":18,"h":14.9,"v":413},{"d":18,"h":15.0,"v":441},{"d":18,"h":15.1,"v":419},{"d":18,"h":15.2,"v":397},{"d":18,"h":15.3,"v":414},{"d":18,"h":15.4,"v":386},{"d":18,"h":15.5,"v":385},{"d":18,"h":15.75,"v":355},{"d":18,"h":16.0,"v":330},{"d":18,"h":16.25,"v":290},{"d":18,"h":16.5,"v":255},{"d":18,"h":17.0,"v":180},{"d":18,"h":17.5,"v":110},{"d":18,"h":18.0,"v":57},{"d":18,"h":18.5,"v":23},{"d":18,"h":19.0,"v":6},{"d":18,"h":19.4,"v":0},
{"d":19,"h":5.0,"v":0},{"d":19,"h":5.5,"v":4},{"d":19,"h":6.0,"v":14},{"d":19,"h":6.5,"v":37},{"d":19,"h":7.0,"v":72},{"d":19,"h":7.5,"v":123},{"d":19,"h":8.0,"v":184},{"d":19,"h":8.5,"v":254},{"d":19,"h":9.0,"v":322},{"d":19,"h":9.2,"v":250},{"d":19,"h":9.3,"v":350},{"d":19,"h":9.5,"v":370},{"d":19,"h":9.6,"v":380},{"d":19,"h":9.7,"v":352},{"d":19,"h":9.8,"v":408},{"d":19,"h":9.9,"v":380},{"d":19,"h":10.0,"v":353},{"d":19,"h":10.1,"v":418},{"d":19,"h":10.2,"v":388},{"d":19,"h":10.3,"v":413},{"d":19,"h":10.4,"v":363},{"d":19,"h":10.5,"v":442},{"d":19,"h":10.6,"v":410},{"d":19,"h":10.7,"v":394},{"d":19,"h":10.8,"v":438},{"d":19,"h":10.9,"v":461},{"d":19,"h":11.0,"v":399},{"d":19,"h":11.1,"v":436},{"d":19,"h":11.2,"v":383},{"d":19,"h":11.3,"v":455},{"d":19,"h":11.4,"v":427},{"d":19,"h":11.5,"v":468},{"d":19,"h":11.6,"v":419},{"d":19,"h":11.7,"v":440},{"d":19,"h":11.8,"v":401},{"d":19,"h":11.9,"v":467},{"d":19,"h":12.0,"v":452},{"d":19,"h":12.1,"v":427},{"d":19,"h":12.2,"v":477},{"d":19,"h":12.3,"v":411},{"d":19,"h":12.4,"v":436},{"d":19,"h":12.5,"v":460},{"d":19,"h":12.6,"v":384},{"d":19,"h":12.7,"v":442},{"d":19,"h":12.8,"v":466},{"d":19,"h":12.9,"v":424},{"d":19,"h":13.0,"v":397},{"d":19,"h":13.1,"v":445},{"d":19,"h":13.2,"v":427},{"d":19,"h":13.3,"v":460},{"d":19,"h":13.4,"v":402},{"d":19,"h":13.5,"v":429},{"d":19,"h":13.6,"v":371},{"d":19,"h":13.7,"v":438},{"d":19,"h":13.8,"v":405},{"d":19,"h":13.9,"v":382},{"d":19,"h":14.0,"v":424},{"d":19,"h":14.1,"v":390},{"d":19,"h":14.2,"v":426},{"d":19,"h":14.3,"v":361},{"d":19,"h":14.4,"v":391},{"d":19,"h":14.5,"v":366},{"d":19,"h":14.6,"v":401},{"d":19,"h":14.7,"v":330},{"d":19,"h":14.8,"v":374},{"d":19,"h":14.9,"v":353},{"d":19,"h":15.0,"v":381},{"d":19,"h":15.1,"v":324},{"d":19,"h":15.2,"v":352},{"d":19,"h":15.3,"v":329},{"d":19,"h":15.4,"v":356},{"d":19,"h":15.5,"v":335},{"d":19,"h":15.75,"v":290},{"d":19,"h":16.0,"v":285},{"d":19,"h":16.25,"v":235},{"d":19,"h":16.5,"v":215},{"d":19,"h":17.0,"v":145},{"d":19,"h":17.5,"v":85},{"d":19,"h":18.0,"v":40},{"d":19,"h":18.5,"v":13},{"d":19,"h":19.0,"v":3},{"d":19,"h":19.3,"v":0},
{"d":20,"h":5.0,"v":0},{"d":20,"h":5.5,"v":5},{"d":20,"h":6.0,"v":16},{"d":20,"h":6.5,"v":40},{"d":20,"h":7.0,"v":77},{"d":20,"h":7.5,"v":129},{"d":20,"h":8.0,"v":193},{"d":20,"h":8.5,"v":264},{"d":20,"h":9.0,"v":336},{"d":20,"h":9.5,"v":418},{"d":20,"h":9.6,"v":425},{"d":20,"h":9.7,"v":397},{"d":20,"h":9.8,"v":453},{"d":20,"h":9.9,"v":390},{"d":20,"h":10.0,"v":443},{"d":20,"h":10.1,"v":483},{"d":20,"h":10.2,"v":418},{"d":20,"h":10.3,"v":448},{"d":20,"h":10.4,"v":248},{"d":20,"h":10.5,"v":487},{"d":20,"h":10.6,"v":440},{"d":20,"h":10.7,"v":504},{"d":20,"h":10.8,"v":438},{"d":20,"h":10.9,"v":476},{"d":20,"h":11.0,"v":524},{"d":20,"h":11.1,"v":436},{"d":20,"h":11.2,"v":493},{"d":20,"h":11.3,"v":470},{"d":20,"h":11.4,"v":517},{"d":20,"h":11.5,"v":298},{"d":20,"h":11.6,"v":509},{"d":20,"h":11.7,"v":460},{"d":20,"h":11.8,"v":531},{"d":20,"h":11.9,"v":472},{"d":20,"h":12.0,"v":507},{"d":20,"h":12.1,"v":442},{"d":20,"h":12.2,"v":497},{"d":20,"h":12.3,"v":526},{"d":20,"h":12.4,"v":451},{"d":20,"h":12.5,"v":490},{"d":20,"h":12.6,"v":329},{"d":20,"h":12.7,"v":512},{"d":20,"h":12.8,"v":471},{"d":20,"h":12.9,"v":514},{"d":20,"h":13.0,"v":447},{"d":20,"h":13.1,"v":490},{"d":20,"h":13.2,"v":522},{"d":20,"h":13.3,"v":450},{"d":20,"h":13.4,"v":492},{"d":20,"h":13.5,"v":414},{"d":20,"h":13.6,"v":466},{"d":20,"h":13.7,"v":493},{"d":20,"h":13.8,"v":430},{"d":20,"h":13.9,"v":237},{"d":20,"h":14.0,"v":469},{"d":20,"h":14.1,"v":405},{"d":20,"h":14.2,"v":451},{"d":20,"h":14.3,"v":476},{"d":20,"h":14.4,"v":416},{"d":20,"h":14.5,"v":451},{"d":20,"h":14.6,"v":376},{"d":20,"h":14.7,"v":430},{"d":20,"h":14.8,"v":389},{"d":20,"h":14.9,"v":433},{"d":20,"h":15.0,"v":386},{"d":20,"h":15.1,"v":409},{"d":20,"h":15.2,"v":347},{"d":20,"h":15.3,"v":384},{"d":20,"h":15.4,"v":351},{"d":20,"h":15.5,"v":355},{"d":20,"h":15.75,"v":325},{"d":20,"h":16.0,"v":302},{"d":20,"h":16.25,"v":268},{"d":20,"h":16.5,"v":236},{"d":20,"h":17.0,"v":165},{"d":20,"h":17.5,"v":100},{"d":20,"h":18.0,"v":50},{"d":20,"h":18.5,"v":19},{"d":20,"h":19.0,"v":5},{"d":20,"h":19.3,"v":0},
{"d":21,"h":5.0,"v":0},{"d":21,"h":5.5,"v":5},{"d":21,"h":6.0,"v":16},{"d":21,"h":6.5,"v":39},{"d":21,"h":7.0,"v":75},{"d":21,"h":7.5,"v":126},{"d":21,"h":8.0,"v":188},{"d":21,"h":8.5,"v":258},{"d":21,"h":8.8,"v":230},{"d":21,"h":8.9,"v":300},{"d":21,"h":9.0,"v":318},{"d":21,"h":9.3,"v":360},{"d":21,"h":9.5,"v":380},{"d":21,"h":9.6,"v":340},{"d":21,"h":9.7,"v":380},{"d":21,"h":9.8,"v":300},{"d":21,"h":9.9,"v":390},{"d":21,"h":10.0,"v":410},{"d":21,"h":10.1,"v":330},{"d":21,"h":10.2,"v":420},{"d":21,"h":10.3,"v":260},{"d":21,"h":10.4,"v":415},{"d":21,"h":10.5,"v":430},{"d":21,"h":10.6,"v":350},{"d":21,"h":10.7,"v":440},{"d":21,"h":10.8,"v":300},{"d":21,"h":10.9,"v":445},{"d":21,"h":11.0,"v":420},{"d":21,"h":11.1,"v":460},{"d":21,"h":11.2,"v":340},{"d":21,"h":11.3,"v":455},{"d":21,"h":11.4,"v":270},{"d":21,"h":11.5,"v":450},{"d":21,"h":11.6,"v":470},{"d":21,"h":11.7,"v":380},{"d":21,"h":11.8,"v":455},{"d":21,"h":11.9,"v":320},{"d":21,"h":12.0,"v":465},{"d":21,"h":12.1,"v":440},{"d":21,"h":12.2,"v":250},{"d":21,"h":12.3,"v":450},{"d":21,"h":12.4,"v":470},{"d":21,"h":12.5,"v":360},{"d":21,"h":12.6,"v":455},{"d":21,"h":12.7,"v":300},{"d":21,"h":12.8,"v":445},{"d":21,"h":12.9,"v":460},{"d":21,"h":13.0,"v":340},{"d":21,"h":13.1,"v":440},{"d":21,"h":13.2,"v":280},{"d":21,"h":13.3,"v":430},{"d":21,"h":13.4,"v":450},{"d":21,"h":13.5,"v":350},{"d":21,"h":13.6,"v":435},{"d":21,"h":13.7,"v":410},{"d":21,"h":13.8,"v":290},{"d":21,"h":13.9,"v":420},{"d":21,"h":14.0,"v":400},{"d":21,"h":14.1,"v":320},{"d":21,"h":14.2,"v":410},{"d":21,"h":14.3,"v":260},{"d":21,"h":14.4,"v":395},{"d":21,"h":14.5,"v":380},{"d":21,"h":14.6,"v":300},{"d":21,"h":14.7,"v":385},{"d":21,"h":14.8,"v":330},{"d":21,"h":14.9,"v":370},{"d":21,"h":15.0,"v":250},{"d":21,"h":15.1,"v":360},{"d":21,"h":15.2,"v":340},{"d":21,"h":15.3,"v":300},{"d":21,"h":15.4,"v":335},{"d":21,"h":15.5,"v":320},{"d":21,"h":15.75,"v":300},{"d":21,"h":16.0,"v":275},{"d":21,"h":16.25,"v":245},{"d":21,"h":16.5,"v":210},{"d":21,"h":17.0,"v":148},{"d":21,"h":17.5,"v":88},{"d":21,"h":18.0,"v":41},{"d":21,"h":18.5,"v":14},{"d":21,"h":19.0,"v":3},{"d":21,"h":19.3,"v":0},
{"d":22,"h":5.0,"v":0},{"d":22,"h":5.5,"v":6},{"d":22,"h":6.0,"v":18},{"d":22,"h":6.5,"v":42},{"d":22,"h":7.0,"v":80},{"d":22,"h":7.5,"v":133},{"d":22,"h":8.0,"v":196},{"d":22,"h":8.5,"v":268},{"d":22,"h":9.0,"v":340},{"d":22,"h":9.2,"v":290},{"d":22,"h":9.3,"v":365},{"d":22,"h":9.5,"v":395},{"d":22,"h":9.6,"v":390},{"d":22,"h":9.7,"v":350},{"d":22,"h":9.8,"v":405},{"d":22,"h":9.9,"v":420},{"d":22,"h":10.0,"v":370},{"d":22,"h":10.1,"v":425},{"d":22,"h":10.2,"v":440},{"d":22,"h":10.3,"v":380},{"d":22,"h":10.4,"v":450},{"d":22,"h":10.5,"v":320},{"d":22,"h":10.6,"v":445},{"d":22,"h":10.7,"v":460},{"d":22,"h":10.8,"v":400},{"d":22,"h":10.9,"v":465},{"d":22,"h":11.0,"v":430},{"d":22,"h":11.1,"v":475},{"d":22,"h":11.2,"v":360},{"d":22,"h":11.3,"v":470},{"d":22,"h":11.4,"v":455},{"d":22,"h":11.5,"v":480},{"d":22,"h":11.6,"v":410},{"d":22,"h":11.7,"v":470},{"d":22,"h":11.8,"v":490},{"d":22,"h":11.9,"v":430},{"d":22,"h":12.0,"v":475},{"d":22,"h":12.1,"v":350},{"d":22,"h":12.2,"v":470},{"d":22,"h":12.3,"v":485},{"d":22,"h":12.4,"v":440},{"d":22,"h":12.5,"v":475},{"d":22,"h":12.6,"v":420},{"d":22,"h":12.7,"v":465},{"d":22,"h":12.8,"v":380},{"d":22,"h":12.9,"v":470},{"d":22,"h":13.0,"v":455},{"d":22,"h":13.1,"v":400},{"d":22,"h":13.2,"v":460},{"d":22,"h":13.3,"v":445},{"d":22,"h":13.4,"v":330},{"d":22,"h":13.5,"v":450},{"d":22,"h":13.6,"v":435},{"d":22,"h":13.7,"v":395},{"d":22,"h":13.8,"v":440},{"d":22,"h":13.9,"v":425},{"d":22,"h":14.0,"v":350},{"d":22,"h":14.1,"v":420},{"d":22,"h":14.2,"v":415},{"d":22,"h":14.3,"v":380},{"d":22,"h":14.4,"v":405},{"d":22,"h":14.5,"v":300},{"d":22,"h":14.6,"v":395},{"d":22,"h":14.7,"v":385},{"d":22,"h":14.8,"v":350},{"d":22,"h":14.9,"v":375},{"d":22,"h":15.0,"v":365},{"d":22,"h":15.1,"v":320},{"d":22,"h":15.2,"v":355},{"d":22,"h":15.3,"v":345},{"d":22,"h":15.4,"v":330},{"d":22,"h":15.5,"v":345},{"d":22,"h":15.75,"v":318},{"d":22,"h":16.0,"v":295},{"d":22,"h":16.25,"v":262},{"d":22,"h":16.5,"v":228},{"d":22,"h":17.0,"v":158},{"d":22,"h":17.5,"v":95},{"d":22,"h":18.0,"v":46},{"d":22,"h":18.5,"v":17},{"d":22,"h":19.0,"v":4},{"d":22,"h":19.3,"v":0},
{"d":23,"h":5.0,"v":0},{"d":23,"h":5.5,"v":5},{"d":23,"h":6.0,"v":17},{"d":23,"h":6.5,"v":41},{"d":23,"h":7.0,"v":79},{"d":23,"h":7.5,"v":131},{"d":23,"h":8.0,"v":194},{"d":23,"h":8.5,"v":266},{"d":23,"h":9.0,"v":335},{"d":23,"h":9.5,"v":405},{"d":23,"h":9.6,"v":420},{"d":23,"h":9.7,"v":395},{"d":23,"h":9.8,"v":440},{"d":23,"h":9.9,"v":405},{"d":23,"h":10.0,"v":455},{"d":23,"h":10.1,"v":410},{"d":23,"h":10.2,"v":465},{"d":23,"h":10.3,"v":300},{"d":23,"h":10.4,"v":460},{"d":23,"h":10.5,"v":425},{"d":23,"h":10.6,"v":480},{"d":23,"h":10.7,"v":440},{"d":23,"h":10.8,"v":490},{"d":23,"h":10.9,"v":445},{"d":23,"h":11.0,"v":400},{"d":23,"h":11.1,"v":485},{"d":23,"h":11.2,"v":450},{"d":23,"h":11.3,"v":500},{"d":23,"h":11.4,"v":455},{"d":23,"h":11.5,"v":220},{"d":23,"h":11.6,"v":470},{"d":23,"h":11.7,"v":505},{"d":23,"h":11.8,"v":460},{"d":23,"h":11.9,"v":495},{"d":23,"h":12.0,"v":450},{"d":23,"h":12.1,"v":500},{"d":23,"h":12.2,"v":455},{"d":23,"h":12.3,"v":410},{"d":23,"h":12.4,"v":495},{"d":23,"h":12.5,"v":445},{"d":23,"h":12.6,"v":490},{"d":23,"h":12.7,"v":285},{"d":23,"h":12.8,"v":480},{"d":23,"h":12.9,"v":440},{"d":23,"h":13.0,"v":485},{"d":23,"h":13.1,"v":430},{"d":23,"h":13.2,"v":470},{"d":23,"h":13.3,"v":425},{"d":23,"h":13.4,"v":465},{"d":23,"h":13.5,"v":330},{"d":23,"h":13.6,"v":455},{"d":23,"h":13.7,"v":420},{"d":23,"h":13.8,"v":460},{"d":23,"h":13.9,"v":410},{"d":23,"h":14.0,"v":445},{"d":23,"h":14.1,"v":400},{"d":23,"h":14.2,"v":430},{"d":23,"h":14.3,"v":395},{"d":23,"h":14.4,"v":290},{"d":23,"h":14.5,"v":420},{"d":23,"h":14.6,"v":385},{"d":23,"h":14.7,"v":405},{"d":23,"h":14.8,"v":370},{"d":23,"h":14.9,"v":395},{"d":23,"h":15.0,"v":355},{"d":23,"h":15.1,"v":375},{"d":23,"h":15.2,"v":340},{"d":23,"h":15.3,"v":360},{"d":23,"h":15.4,"v":330},{"d":23,"h":15.5,"v":340},{"d":23,"h":15.75,"v":322},{"d":23,"h":16.0,"v":300},{"d":23,"h":16.25,"v":266},{"d":23,"h":16.5,"v":234},{"d":23,"h":17.0,"v":162},{"d":23,"h":17.5,"v":98},{"d":23,"h":18.0,"v":48},{"d":23,"h":18.5,"v":18},{"d":23,"h":19.0,"v":4},{"d":23,"h":19.3,"v":0},
{"d":24,"h":5.0,"v":0},{"d":24,"h":5.5,"v":4},{"d":24,"h":6.0,"v":15},{"d":24,"h":6.5,"v":37},{"d":24,"h":7.0,"v":73},{"d":24,"h":7.5,"v":124},{"d":24,"h":8.0,"v":186},{"d":24,"h":8.5,"v":256},{"d":24,"h":9.0,"v":326},{"d":24,"h":9.4,"v":250},{"d":24,"h":9.5,"v":345},{"d":24,"h":9.6,"v":350},{"d":24,"h":9.7,"v":310},{"d":24,"h":9.8,"v":370},{"d":24,"h":9.9,"v":340},{"d":24,"h":10.0,"v":390},{"d":24,"h":10.1,"v":355},{"d":24,"h":10.2,"v":290},{"d":24,"h":10.3,"v":395},{"d":24,"h":10.4,"v":370},{"d":24,"h":10.5,"v":410},{"d":24,"h":10.6,"v":380},{"d":24,"h":10.7,"v":330},{"d":24,"h":10.8,"v":420},{"d":24,"h":10.9,"v":390},{"d":24,"h":11.0,"v":435},{"d":24,"h":11.1,"v":400},{"d":24,"h":11.2,"v":350},{"d":24,"h":11.3,"v":425},{"d":24,"h":11.4,"v":395},{"d":24,"h":11.5,"v":440},{"d":24,"h":11.6,"v":405},{"d":24,"h":11.7,"v":365},{"d":24,"h":11.8,"v":430},{"d":24,"h":11.9,"v":400},{"d":24,"h":12.0,"v":445},{"d":24,"h":12.1,"v":410},{"d":24,"h":12.2,"v":380},{"d":24,"h":12.3,"v":440},{"d":24,"h":12.4,"v":400},{"d":24,"h":12.5,"v":430},{"d":24,"h":12.6,"v":390},{"d":24,"h":12.7,"v":350},{"d":24,"h":12.8,"v":425},{"d":24,"h":12.9,"v":395},{"d":24,"h":13.0,"v":430},{"d":24,"h":13.1,"v":380},{"d":24,"h":13.2,"v":340},{"d":24,"h":13.3,"v":415},{"d":24,"h":13.4,"v":385},{"d":24,"h":13.5,"v":410},{"d":24,"h":13.6,"v":360},{"d":24,"h":13.7,"v":400},{"d":24,"h":13.8,"v":370},{"d":24,"h":13.9,"v":330},{"d":24,"h":14.0,"v":390},{"d":24,"h":14.1,"v":355},{"d":24,"h":14.2,"v":380},{"d":24,"h":14.3,"v":340},{"d":24,"h":14.4,"v":365},{"d":24,"h":14.5,"v":320},{"d":24,"h":14.6,"v":350},{"d":24,"h":14.7,"v":310},{"d":24,"h":14.8,"v":340},{"d":24,"h":14.9,"v":300},{"d":24,"h":15.0,"v":330},{"d":24,"h":15.1,"v":290},{"d":24,"h":15.2,"v":315},{"d":24,"h":15.3,"v":285},{"d":24,"h":15.4,"v":300},{"d":24,"h":15.5,"v":310},{"d":24,"h":15.75,"v":285},{"d":24,"h":16.0,"v":270},{"d":24,"h":16.25,"v":240},{"d":24,"h":16.5,"v":205},{"d":24,"h":17.0,"v":145},{"d":24,"h":17.5,"v":86},{"d":24,"h":18.0,"v":40},{"d":24,"h":18.5,"v":13},{"d":24,"h":19.0,"v":3},{"d":24,"h":19.3,"v":0}
],
"red": [
{"h":5.38,"v":0},{"h":5.7,"v":8},{"h":6.0,"v":22},{"h":6.4,"v":48},{"h":6.7,"v":72},{"h":7.0,"v":98},{"h":7.4,"v":140},{"h":7.8,"v":192},{"h":8.2,"v":252},{"h":8.6,"v":318},{"h":9.0,"v":385},{"h":9.5,"v":455},{"h":10.0,"v":505},{"h":10.5,"v":538},{"h":11.0,"v":558},{"h":11.5,"v":569},{"h":12.1,"v":574},{"h":12.7,"v":571},{"h":13.3,"v":561},{"h":13.8,"v":545},{"h":14.3,"v":516},{"h":14.8,"v":478},{"h":15.3,"v":436},{"h":15.7,"v":395},{"h":16.1,"v":338},{"h":16.5,"v":272},{"h":16.9,"v":210},{"h":17.3,"v":148},{"h":17.7,"v":92},{"h":18.1,"v":52},{"h":18.5,"v":26},{"h":18.9,"v":10},{"h":19.2,"v":3},{"h":19.45,"v":0}
],
"blue": [
{"h":4.9,"v":0},{"h":5.25,"v":6},{"h":5.75,"v":15},{"h":6.25,"v":29},{"h":6.75,"v":60},{"h":7.25,"v":115},{"h":7.75,"v":180},{"h":8.25,"v":254},{"h":8.75,"v":325},{"h":9.25,"v":373},{"h":9.75,"v":420},{"h":10.25,"v":473},{"h":10.75,"v":473},{"h":11.25,"v":440},{"h":11.75,"v":452},{"h":12.25,"v":474},{"h":12.75,"v":459},{"h":13.25,"v":449},{"h":13.75,"v":421},{"h":14.25,"v":440},{"h":14.75,"v":416},{"h":15.25,"v":385},{"h":15.75,"v":318},{"h":16.25,"v":243},{"h":16.75,"v":175},{"h":17.25,"v":106},{"h":17.75,"v":57},{"h":18.25,"v":34},{"h":18.75,"v":17},{"h":19.25,"v":5},{"h":19.5,"v":0}
]
},
"layer": [
{
"data": {"name": "gray"},
"mark": {"type": "line", "color": "#999999", "strokeWidth": 1, "clip": true},
"encoding": {
"x": {"field": "h", "type": "quantitative", "scale": {"domain": [3, 21], "nice": false, "zero": false},
 "axis": {"orient": "bottom", "values": [3,5,7,9,11,13,15,17,19,21], "labels": false, "title": null, "grid": true, "gridColor": "#dedede", "gridWidth": 1, "tickSize": -5, "tickColor": "#333333", "domainColor": "#333333", "domainWidth": 1}},
"y": {"field": "v", "type": "quantitative", "scale": {"domain": [0, 800], "nice": false},
 "axis": {"orient": "left", "values": [0,100,200,300,400,500,600,700,800], "labels": false, "title": null, "grid": true, "gridColor": "#dedede", "gridWidth": 1, "tickSize": -5, "tickColor": "#333333", "domainColor": "#333333", "domainWidth": 1}},
"detail": {"field": "d", "type": "nominal"}
}
},
{
"data": {"name": "red"},
"mark": {"type": "line", "color": "#E8302E", "strokeWidth": 3.5, "interpolate": "natural", "clip": true},
"encoding": {
"x": {"field": "h", "type": "quantitative",
 "axis": {"orient": "top", "values": [3,5,7,9,11,13,15,17,19,21], "labels": false, "title": null, "grid": false, "tickSize": -5, "tickColor": "#333333", "domainColor": "#333333", "domainWidth": 1, "minExtent": 0, "maxExtent": 1}},
"y": {"field": "v", "type": "quantitative",
 "axis": {"orient": "right", "values": [0,100,200,300,400,500,600,700,800], "labels": false, "title": null, "grid": false, "tickSize": -5, "tickColor": "#333333", "domainColor": "#333333", "domainWidth": 1}}
}
},
{
"data": {"name": "blue"},
"mark": {"type": "line", "color": "#0A6FC8", "strokeWidth": 3.5, "clip": true},
"encoding": {
"x": {"field": "h", "type": "quantitative", "axis": null},
"y": {"field": "v", "type": "quantitative", "axis": null}
}
}
],
"resolve": {"axis": {"x": "independent", "y": "independent"}}
}
